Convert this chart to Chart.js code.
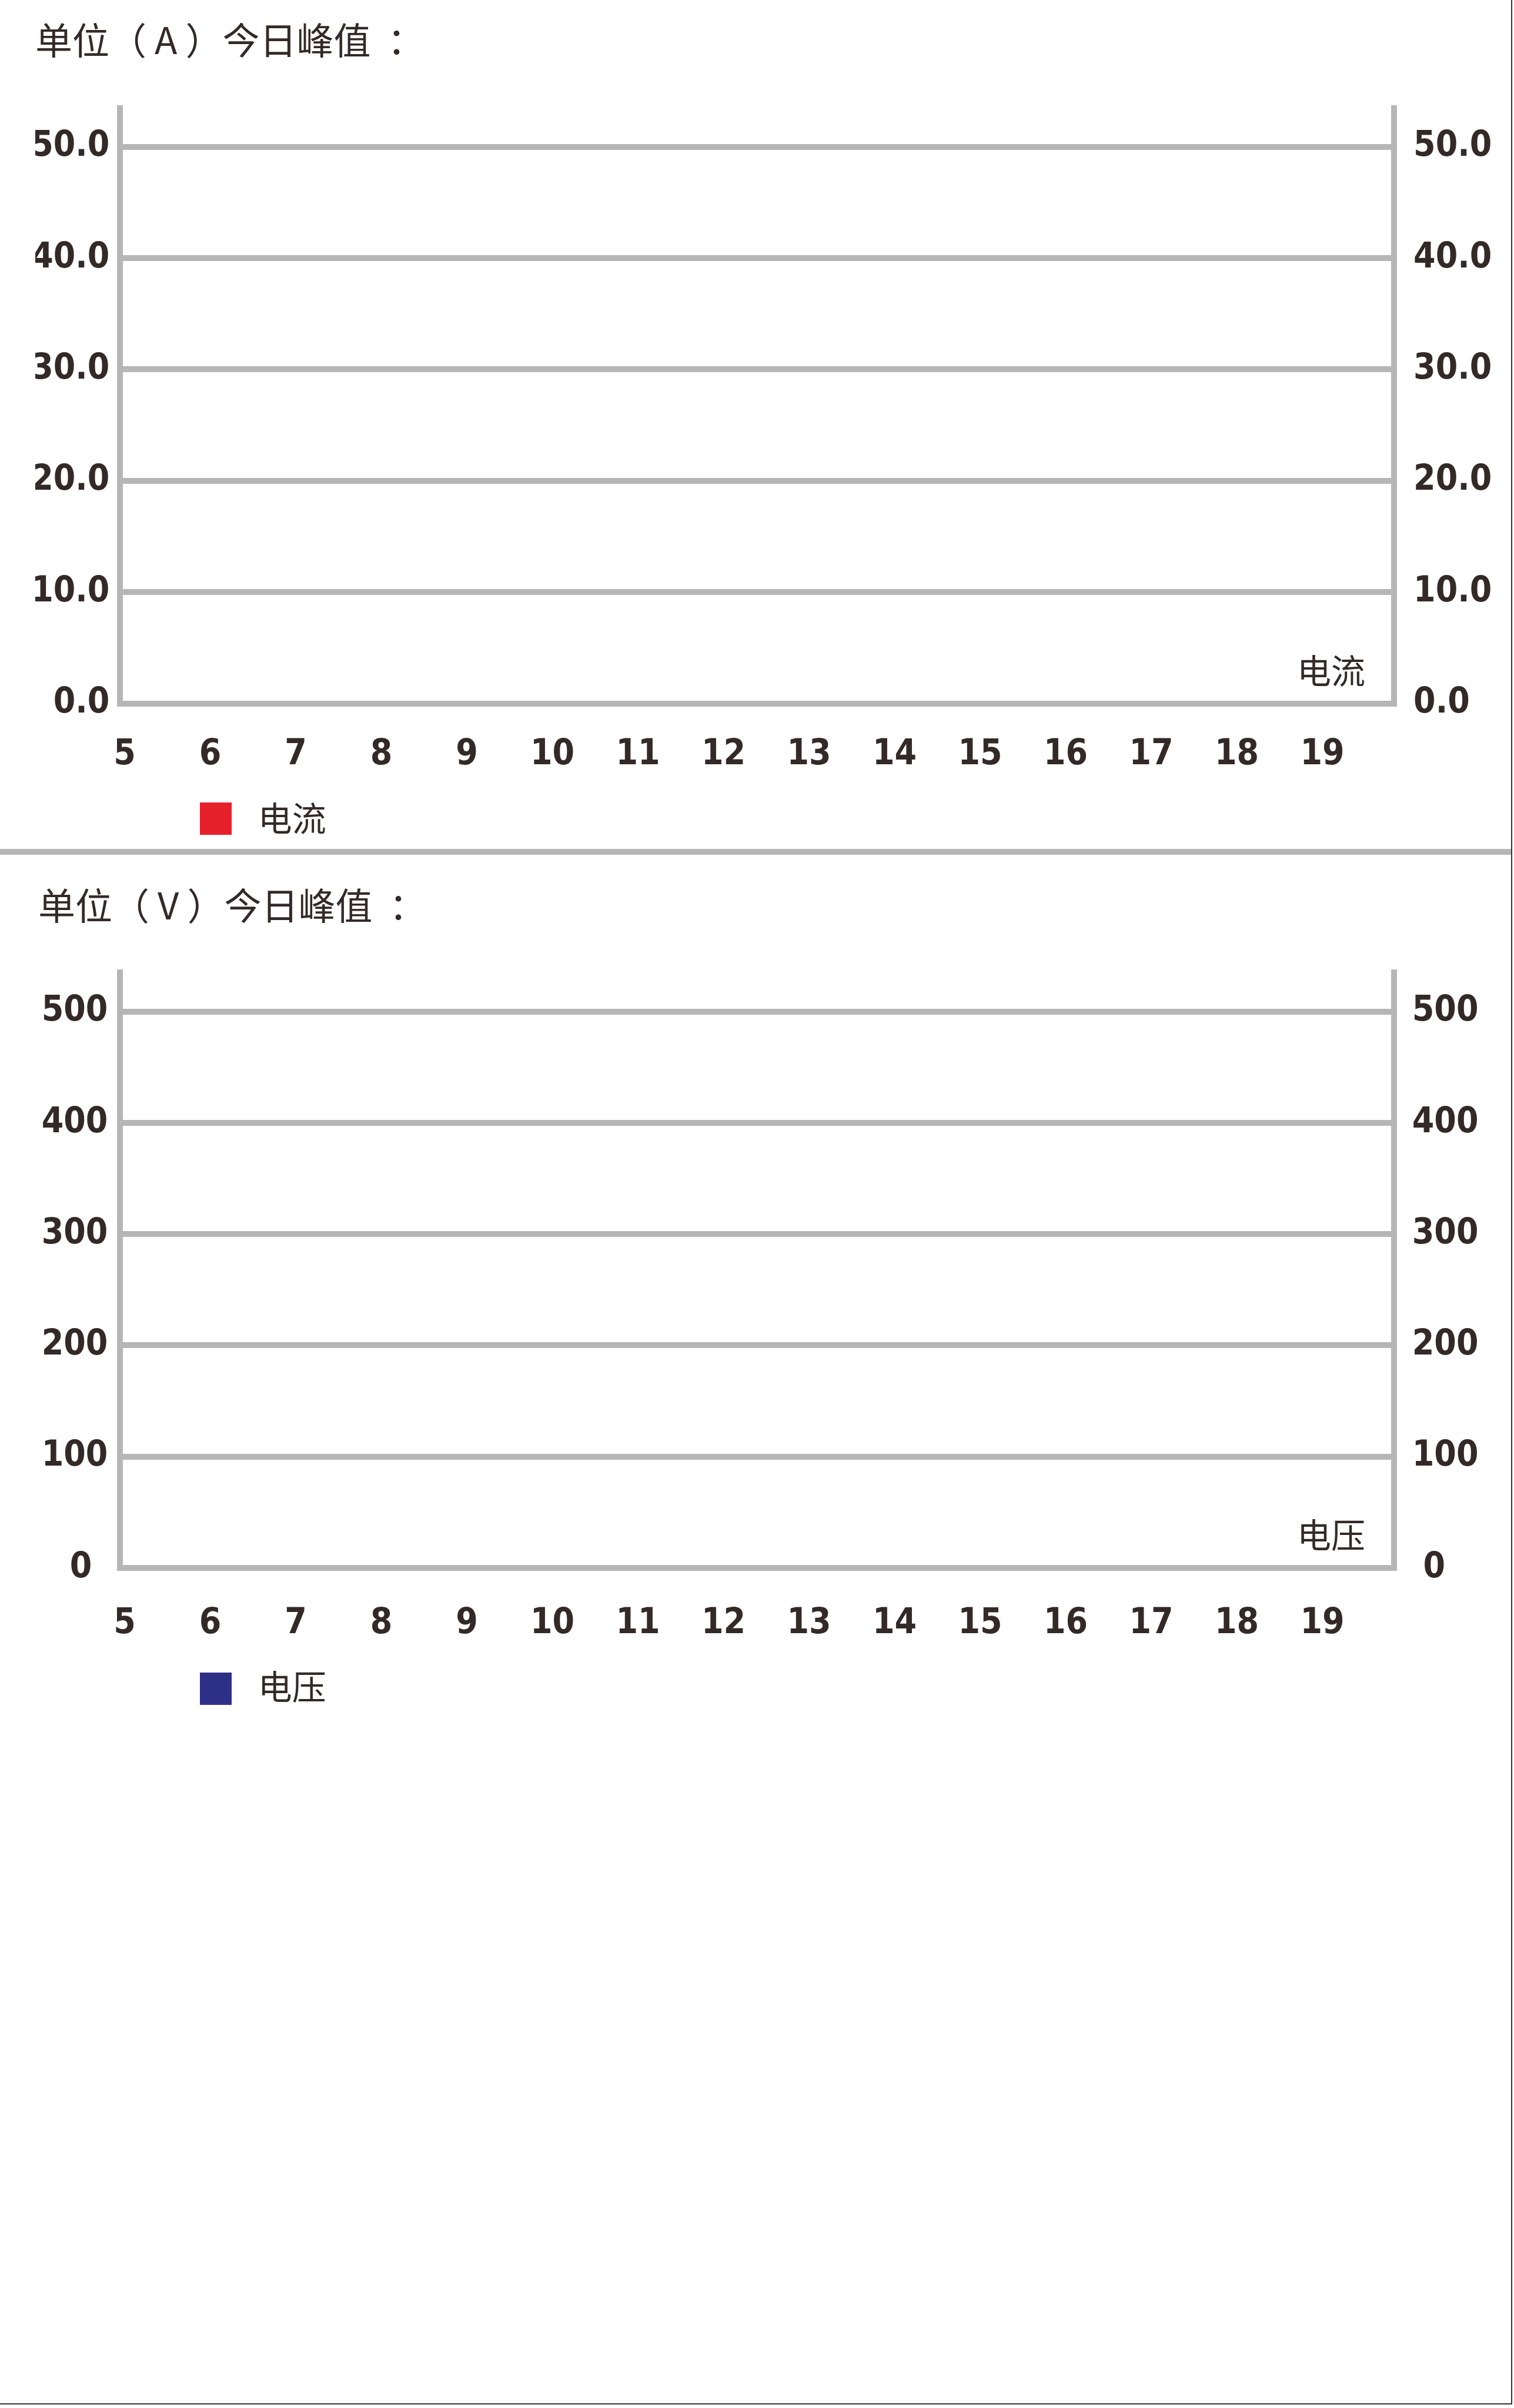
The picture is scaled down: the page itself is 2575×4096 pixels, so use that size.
<!DOCTYPE html>
<html>
<head>
<meta charset="utf-8">
<script src="https://cdn.jsdelivr.net/npm/chart.js@4.4.1/dist/chart.umd.min.js"></script>
<style>
  html, body { margin: 0; padding: 0; background: #ffffff; }
  body { width: 2575px; height: 4096px; position: relative; overflow: hidden; }
  #frame { position: absolute; left: 0; top: 0; width: 2570px; height: 4088px;
           border-right: 2px solid #3a3331; border-bottom: 2px solid #3a3331; }
  #sep { position: absolute; left: 0; top: 1444px; width: 2570px; height: 10px; background: #b6b6b6; }
  canvas { position: absolute; left: 0; }
  .legend { position: absolute; left: 339.7px; width: 600px; height: 60px; }
  .legend .box { position: absolute; left: 0; top: 0; width: 54px; height: 55px; }
  .legend .txt { position: absolute; left: 99px; white-space: nowrap;
                 font-family: "Noto Sans CJK SC", sans-serif; font-size: 58px; line-height: 58px; color: #332a28; }
</style>
</head>
<body>
<div id="frame"></div>
<canvas id="c1" width="2575" height="1440" style="top:0px"></canvas>
<div id="sep"></div>
<canvas id="c2" width="2575" height="1460" style="top:1470px"></canvas>
<div id="lg1" class="legend" style="top:1365px"></div>
<div id="lg2" class="legend" style="top:2845px"></div>
<script>
// ---- data ----
const hours = [5, 6, 7, 8, 9, 10, 11, 12, 13, 14, 15, 16, 17, 18, 19];
const currentTicks = [0, 10, 20, 30, 40, 50];
const voltageTicks = [0, 100, 200, 300, 400, 500];
const currentValues = [];   // the reference plots no readings
const voltageValues = [];
const currentTitle = '单位（ A ）今日峰值  ：';
const voltageTitle = '单位（ V ）今日峰值  ：';
const currentName = '电流';
const voltageName = '电压';

// ---- styling ----
const INK = '#332a28';
const GRID = '#b6b6b6';
const NUM_FONT = '"DejaVu Sans Condensed", "DejaVu Sans", sans-serif';
const CJK_FONT = '"Noto Sans CJK SC", sans-serif';

const cornerLabel = {
  id: 'cornerLabel',
  afterDraw(chart, args, opts) {
    const { ctx, chartArea } = chart;
    ctx.save();
    ctx.font = opts.size + 'px ' + CJK_FONT;
    ctx.fillStyle = INK;
    ctx.textAlign = 'right';
    ctx.textBaseline = 'middle';
    ctx.fillText(chart.data.datasets[0].label, chartArea.right - opts.dx, chartArea.bottom - opts.dy);
    ctx.restore();
  }
};

function buildLegend(chart, elId, textTop) {
  const el = document.getElementById(elId);
  const items = Chart.defaults.plugins.legend.labels.generateLabels(chart);
  items.forEach(it => {
    const box = document.createElement('div');
    box.className = 'box';
    box.style.background = it.fillStyle;
    const txt = document.createElement('div');
    txt.className = 'txt';
    txt.style.top = textTop + 'px';
    txt.textContent = it.text;
    el.appendChild(box);
    el.appendChild(txt);
  });
}

function makeChart(id, s) {
  const numFont = { family: NUM_FONT, size: 60, weight: 'bold', lineHeight: 1.2 };
  const yAxis = (pos, pad, width, zeroText) => ({
    type: 'linear', position: pos, min: 0, max: s.yMax,
    grid: { display: pos === 'left', color: GRID, lineWidth: 10, drawTicks: false },
    border: { display: true, color: GRID, width: 10 },
    ticks: { padding: pad, color: INK, font: numFont,
             callback: v => (v === 0 && zeroText !== undefined) ? zeroText : Number(v).toFixed(s.decimals) },
    afterBuildTicks: sc => { sc.ticks = s.yTicks.map(v => ({ value: v })); },
    afterFit: sc => { sc.width = width; }
  });
  const chart = new Chart(document.getElementById(id), {
    type: 'bar',
    data: {
      datasets: [{ label: s.name, data: s.values, backgroundColor: s.color, borderWidth: 0, yAxisID: 'y' }]
    },
    options: {
      responsive: false, animation: false, devicePixelRatio: 1, events: [],
      layout: { padding: { left: s.padLeft, top: 0, right: 0, bottom: s.padBottom } },
      scales: {
        x: {
          type: 'linear', position: 'bottom', min: s.xMin, max: s.xMax, offset: false,
          grid: { display: false, drawTicks: false, lineWidth: 10, offset: false },
          border: { display: true, color: GRID, width: 10 },
          ticks: { padding: s.xPad, color: INK, autoSkip: false, maxRotation: 0, minRotation: 0,
                   font: numFont, callback: v => String(v) },
          afterBuildTicks: sc => { sc.ticks = hours.map(v => ({ value: v })); },
          afterFit: sc => { sc.height = s.xH; }
        },
        y: yAxis('left', s.padL, s.wL, s.zeroLeft),
        y2: yAxis('right', s.padR, s.wR, s.zeroRight)
      },
      plugins: {
        title: {
          display: true, text: s.title, align: 'start', color: INK,
          font: { family: CJK_FONT, size: 63, weight: 'normal', lineHeight: 1.2 },
          padding: { top: s.tTop, bottom: s.tBottom }
        },
        legend: { display: false },
        tooltip: { enabled: false },
        cornerLabel: { size: 58, dx: 49.5, dy: 56 }
      }
    },
    plugins: [cornerLabel]
  });
  buildLegend(chart, s.legendEl, s.legendTextTop);
  return chart;
}

makeChart('c1', {
  name: currentName, title: currentTitle, values: currentValues, color: '#e6212c',
  yTicks: currentTicks, decimals: 1, yMax: 53.454,
  xMin: 4.948, xMax: 19.841,
  padLeft: 60, padBottom: 103.5, tTop: 29.8, tBottom: 78.9,
  xPad: 51.5, xH: 140,
  padL: 18, wL: 144.4, padR: 32.7, wR: 203.6,
  legendEl: 'lg1', legendTextTop: -5
});

makeChart('c2', {
  name: voltageName, title: voltageTitle, values: voltageValues, color: '#2e3087',
  yTicks: voltageTicks, decimals: 0, yMax: 535.2,
  xMin: 4.948, xMax: 19.841,
  padLeft: 65, padBottom: 123, tTop: 31.8, tBottom: 76.7,
  xPad: 59.5, xH: 140,
  padL: 21, wL: 139.4, padR: 30.4, wR: 203.6,
  zeroLeft: '0\u2002', zeroRight: ' 0',
  legendEl: 'lg2', legendTextTop: -8
});
</script>
</body>
</html>
